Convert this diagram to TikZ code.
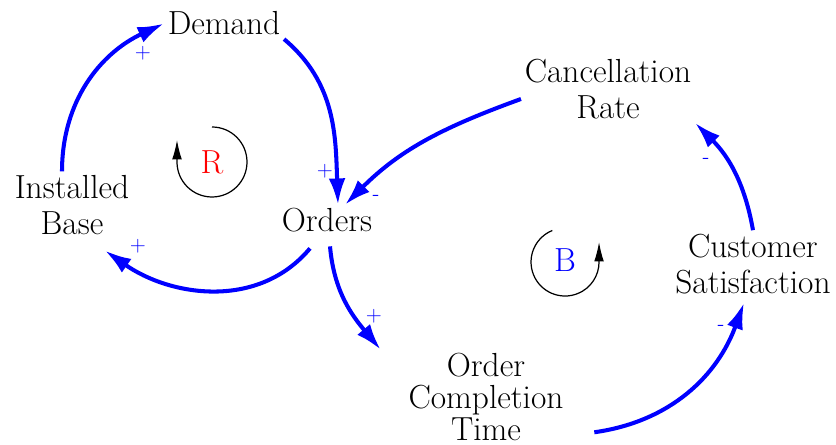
\documentclass[tikz,border=0pt]{standalone}
\usepackage{fontspec}
\usetikzlibrary{arrows.meta}

\begin{document}
\begin{tikzpicture}[x=0.02cm, y=-0.02cm,
        var/.style={align=center, inner sep=2pt, font=\fontsize{19}{20.5}\selectfont},
        link/.style={draw=blue, line width=2.3pt, -{Latex[length=15pt, width=9.5pt]}},
        sign/.style={text=blue, inner sep=0pt, font=\fontsize{12}{14}\selectfont},
        loopmark/.style={draw=black, line width=0.7pt, -{Latex[length=11pt, width=5.5pt]}},
        looplabel/.style={inner sep=0pt, font=\fontsize{19}{20.5}\selectfont}]

        \useasboundingbox (0,0) rectangle (836,445);

        % variables
        \node [var, anchor=base] (dem) at (224,35) {Demand};
        \node [var] (inst) at (72,205) {Installed\\Base};
        \node [var, anchor=base] (ord) at (327,232) {Orders};
        \node [var] (can) at (608,89) {Cancellation\\Rate};
        \node [var] (cs) at (753,264) {Customer\\Satisfaction};
        \node [var, font=\fontsize{19}{18}\selectfont] (oct) at (486,397) {Order\\Completion\\Time};

        % links
        \draw [link] ([xshift=-0.2cm]inst.north) to[out=90, in=205] (dem.west);
        \draw [link] (dem.south east) to[out=-40, in=92] ([xshift=0.22cm]ord.north);
        \draw [link] ([shift={(-0.34cm,-0.24cm)}]ord.south) to[out=-130, in=-35] ([shift={(0.66cm,-0.24cm)}]inst.south);
        \draw [link] ([yshift=-0.2cm]can.west) to[out=200, in=45] ([xshift=0.36cm]ord.north);
        \draw [link] ([shift={(0.06cm,-0.2cm)}]ord.south) to[out=-85, in=130] ([xshift=-0.48cm]oct.north west);
        \draw [link] ([shift={(0.54cm,0.24cm)}]oct.south east) to[out=8, in=-110] ([shift={(-0.18cm,-0.1cm)}]cs.south);
        \draw [link] (cs.north) to[out=100, in=-45] (can.south east);

        % polarities
        \node [sign] (p1) at (143,53) {+};
        \node [sign] (p2) at (325,171) {+};
        \node [sign] (m1) at (376,198) {-};
        \node [sign] (p3) at (138,246) {+};
        \node [sign] (p4) at (374,316) {+};
        \node [sign] (m2) at (721,328) {-};
        \node [sign] (m3) at (706,161) {-};

        % loop markers
        \draw [loopmark] (212,127) arc[start angle=-90, end angle=180, radius=35] -- ++(0,-22);
        \node [looplabel, text=red] (rr) at (212,162) {R};
        \draw [loopmark] (552.3,230.5) arc[start angle=-112, end angle=-360, radius=34] -- ++(0,-20);
        \node [looplabel, text=blue] (bb) at (565,260) {B};
    \end{tikzpicture}
\end{document}
